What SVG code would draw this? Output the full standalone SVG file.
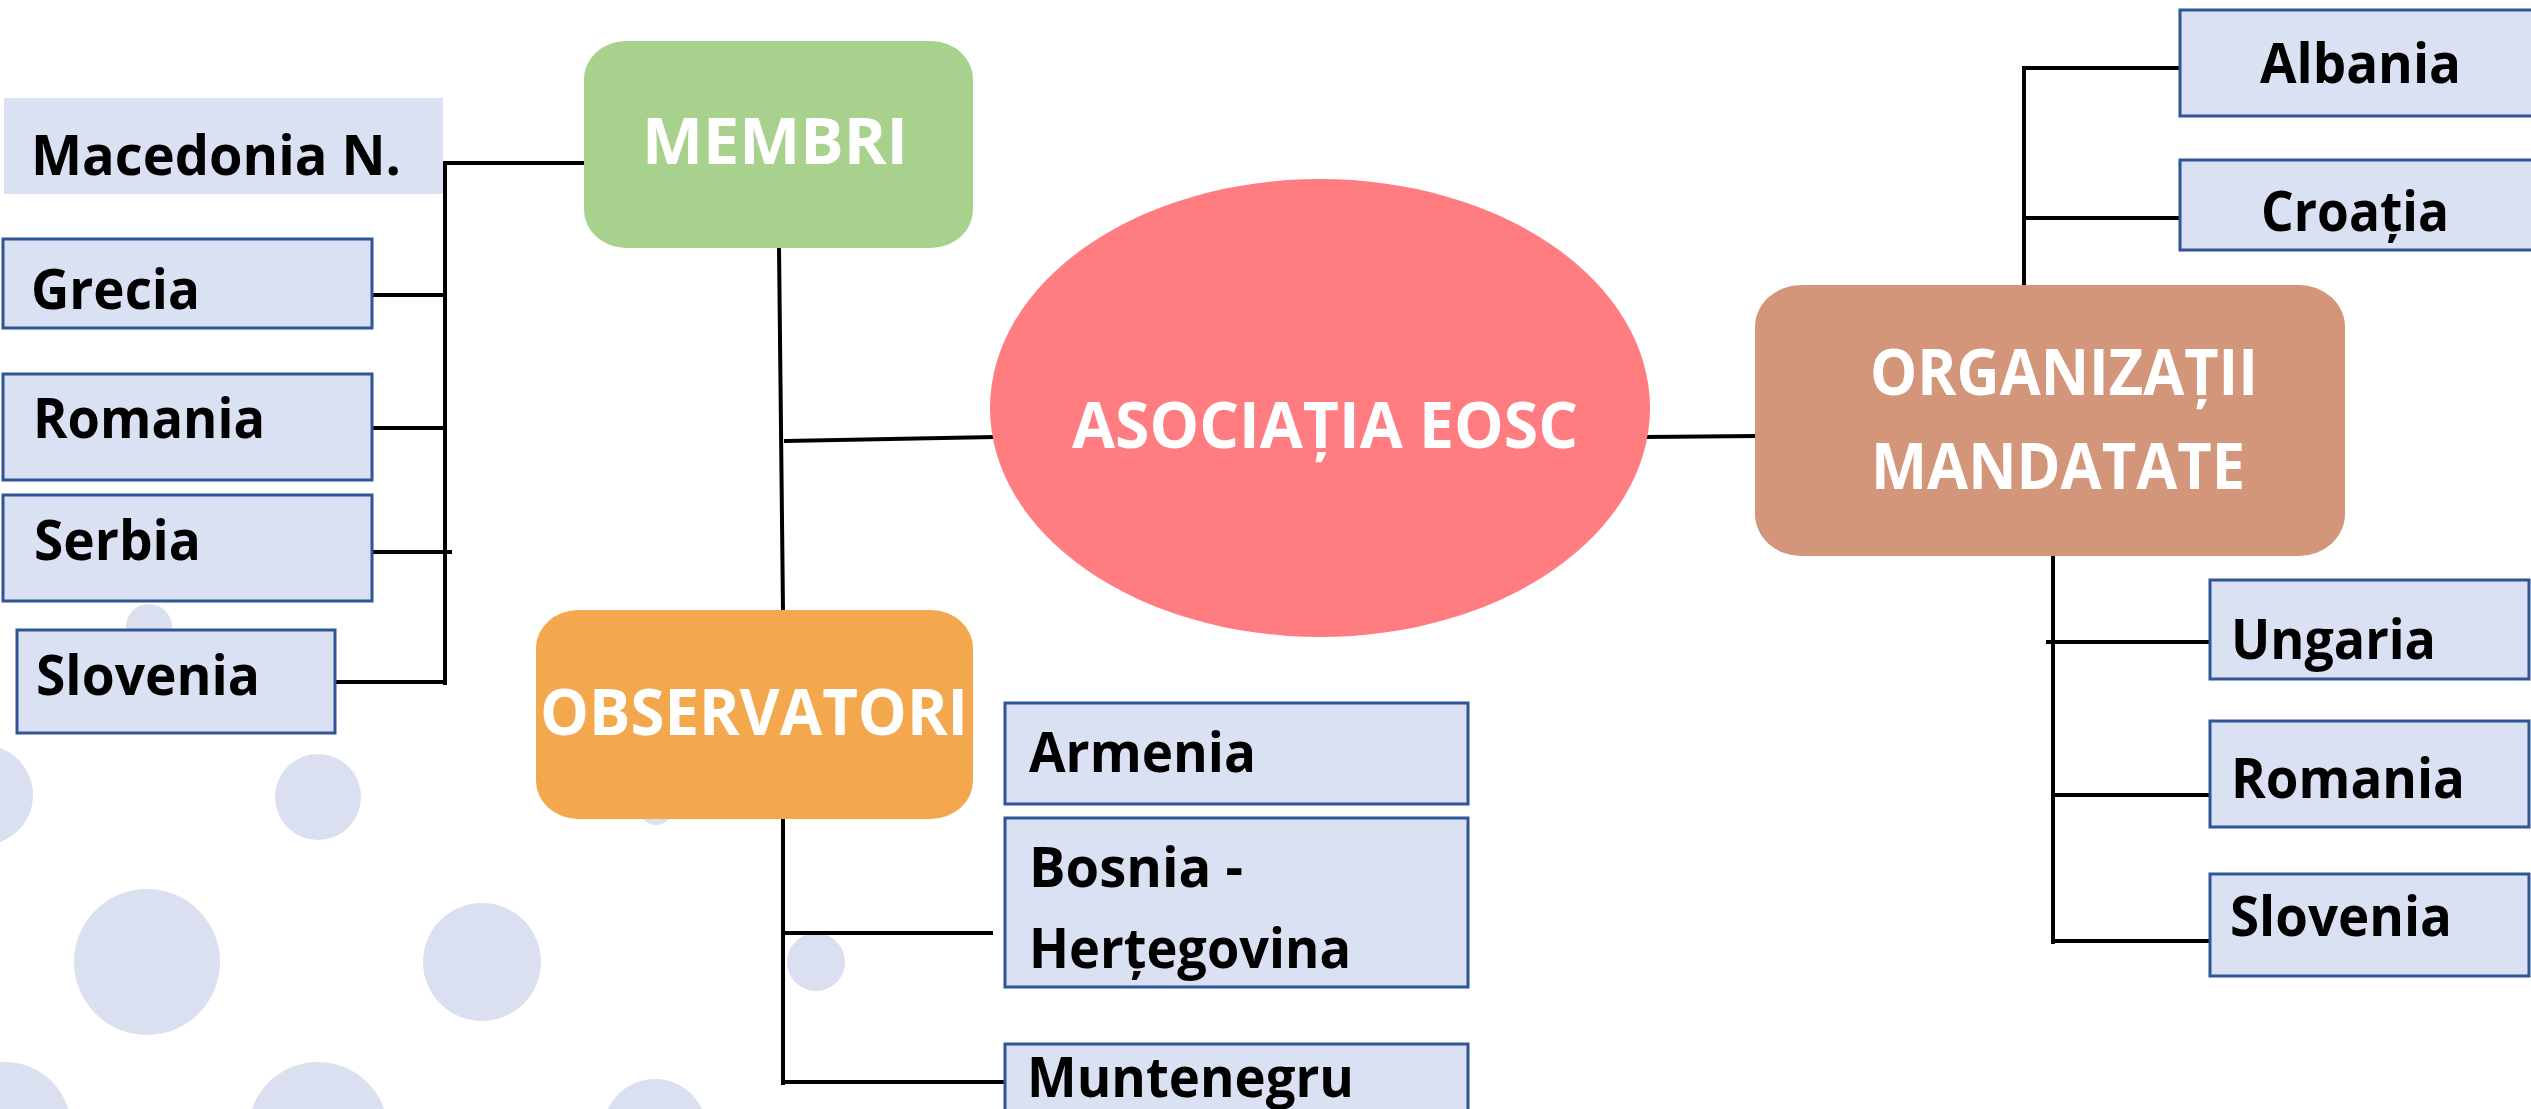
<svg xmlns="http://www.w3.org/2000/svg" width="2531" height="1109" viewBox="0 0 2531 1109">
<style>
.bg{fill:#DAE0F0}
.leaf{fill:#DAE1F3;stroke:#2F5597;stroke-width:3}
.lt{font-family:"Open Sans","Liberation Sans",sans-serif;font-weight:700;font-size:56px;fill:#000}
.wt{font-family:"Open Sans","Liberation Sans",sans-serif;font-weight:700;font-size:65px;fill:#fff}
.con line{stroke:#000;stroke-width:4;stroke-linecap:square}
</style>
<rect width="2531" height="1109" fill="#fff"/>
<g id="background">
<circle class="bg" cx="149" cy="627" r="23"/>
<circle class="bg" cx="-17" cy="795" r="50"/>
<circle class="bg" cx="318" cy="797" r="43"/>
<circle class="bg" cx="656" cy="808" r="17"/>
<circle class="bg" cx="147" cy="962" r="73"/>
<circle class="bg" cx="482" cy="962" r="59"/>
<circle class="bg" cx="816" cy="962" r="29"/>
<circle class="bg" cx="5" cy="1128" r="66"/>
<circle class="bg" cx="318" cy="1132" r="70"/>
<circle class="bg" cx="655" cy="1131" r="52"/>
</g>
<g id="connectors" class="con">
<line x1="445" y1="163" x2="445" y2="683"/>
<line x1="445" y1="163" x2="584" y2="163"/>
<line x1="372" y1="295" x2="445" y2="295"/>
<line x1="372" y1="428" x2="445" y2="428"/>
<line x1="372" y1="552" x2="450" y2="552"/>
<line x1="335" y1="682" x2="445" y2="682"/>
<line x1="779" y1="248" x2="783" y2="610"/>
<line x1="786" y1="441" x2="993" y2="437"/>
<line x1="783" y1="819" x2="783" y2="1083"/>
<line x1="786" y1="933" x2="991" y2="933"/>
<line x1="783" y1="1082" x2="1005" y2="1082"/>
<line x1="1646" y1="437" x2="1755" y2="436"/>
<line x1="2024" y1="68" x2="2024" y2="285"/>
<line x1="2024" y1="68" x2="2180" y2="68"/>
<line x1="2024" y1="218" x2="2180" y2="218"/>
<line x1="2053" y1="556" x2="2053" y2="942"/>
<line x1="2048" y1="642" x2="2210" y2="642"/>
<line x1="2053" y1="795" x2="2216" y2="795"/>
<line x1="2057" y1="941" x2="2210" y2="941"/>
</g>
<g id="n-macedonia"><rect x="4" y="98" width="439" height="96" fill="#DAE1F3"/><text class="lt" x="31" y="175" textLength="370" lengthAdjust="spacingAndGlyphs">Macedonia N.</text></g>
<g id="n-grecia"><rect class="leaf" x="3" y="239" width="369" height="89"/><text class="lt" x="31" y="309" textLength="169" lengthAdjust="spacingAndGlyphs">Grecia</text></g>
<g id="n-romania1"><rect class="leaf" x="3" y="374" width="369" height="106"/><text class="lt" x="33" y="438" textLength="232" lengthAdjust="spacingAndGlyphs">Romania</text></g>
<g id="n-serbia"><rect class="leaf" x="3" y="495" width="369" height="106"/><text class="lt" x="34" y="560" textLength="167" lengthAdjust="spacingAndGlyphs">Serbia</text></g>
<g id="n-slovenia1"><rect class="leaf" x="17" y="630" width="318" height="103"/><text class="lt" x="36" y="695" textLength="224" lengthAdjust="spacingAndGlyphs">Slovenia</text></g>
<g id="n-membri"><rect x="584" y="41" width="389" height="207" rx="42" ry="38" fill="#A9D18E"/><text class="wt" x="642" y="164" textLength="266" lengthAdjust="spacingAndGlyphs">MEMBRI</text></g>
<g id="n-observatori"><rect x="536" y="610" width="437" height="209" rx="42" ry="38" fill="#F4A84E"/><text class="wt" x="540" y="735" textLength="428" lengthAdjust="spacingAndGlyphs">OBSERVATORI</text></g>
<g id="n-asociatia"><ellipse cx="1320" cy="408" rx="330" ry="229" fill="#FF7C80"/><text class="wt" x="1072" y="448" textLength="506" lengthAdjust="spacingAndGlyphs">ASOCIAȚIA EOSC</text></g>
<g id="n-organizatii"><rect x="1755" y="285" width="590" height="271" rx="46" ry="42" fill="#D3967A"/><text class="wt" x="1870" y="395" textLength="388" lengthAdjust="spacingAndGlyphs">ORGANIZAȚII</text><text class="wt" x="1871" y="489" textLength="374" lengthAdjust="spacingAndGlyphs">MANDATATE</text></g>
<g id="n-armenia"><rect class="leaf" x="1005" y="703" width="463" height="101"/><text class="lt" x="1029" y="772" textLength="227" lengthAdjust="spacingAndGlyphs">Armenia</text></g>
<g id="n-bosnia"><rect class="leaf" x="1005" y="818" width="463" height="169"/><text class="lt" x="1029" y="887" textLength="214" lengthAdjust="spacingAndGlyphs">Bosnia -</text><text class="lt" x="1029" y="968" textLength="322" lengthAdjust="spacingAndGlyphs">Herțegovina</text></g>
<g id="n-muntenegru"><rect class="leaf" x="1005" y="1044" width="463" height="80"/><text class="lt" x="1027" y="1097" textLength="327" lengthAdjust="spacingAndGlyphs">Muntenegru</text></g>
<g id="n-albania"><rect class="leaf" x="2180" y="10" width="360" height="106"/><text class="lt" x="2260" y="83" textLength="201" lengthAdjust="spacingAndGlyphs">Albania</text></g>
<g id="n-croatia"><rect class="leaf" x="2180" y="160" width="360" height="90"/><text class="lt" x="2261" y="231" textLength="188" lengthAdjust="spacingAndGlyphs">Croația</text></g>
<g id="n-ungaria"><rect class="leaf" x="2210" y="580" width="319" height="99"/><text class="lt" x="2231" y="659" textLength="205" lengthAdjust="spacingAndGlyphs">Ungaria</text></g>
<g id="n-romania2"><rect class="leaf" x="2210" y="721" width="319" height="106"/><text class="lt" x="2231" y="798" textLength="234" lengthAdjust="spacingAndGlyphs">Romania</text></g>
<g id="n-slovenia2"><rect class="leaf" x="2210" y="874" width="319" height="102"/><text class="lt" x="2230" y="936" textLength="222" lengthAdjust="spacingAndGlyphs">Slovenia</text></g>
</svg>
